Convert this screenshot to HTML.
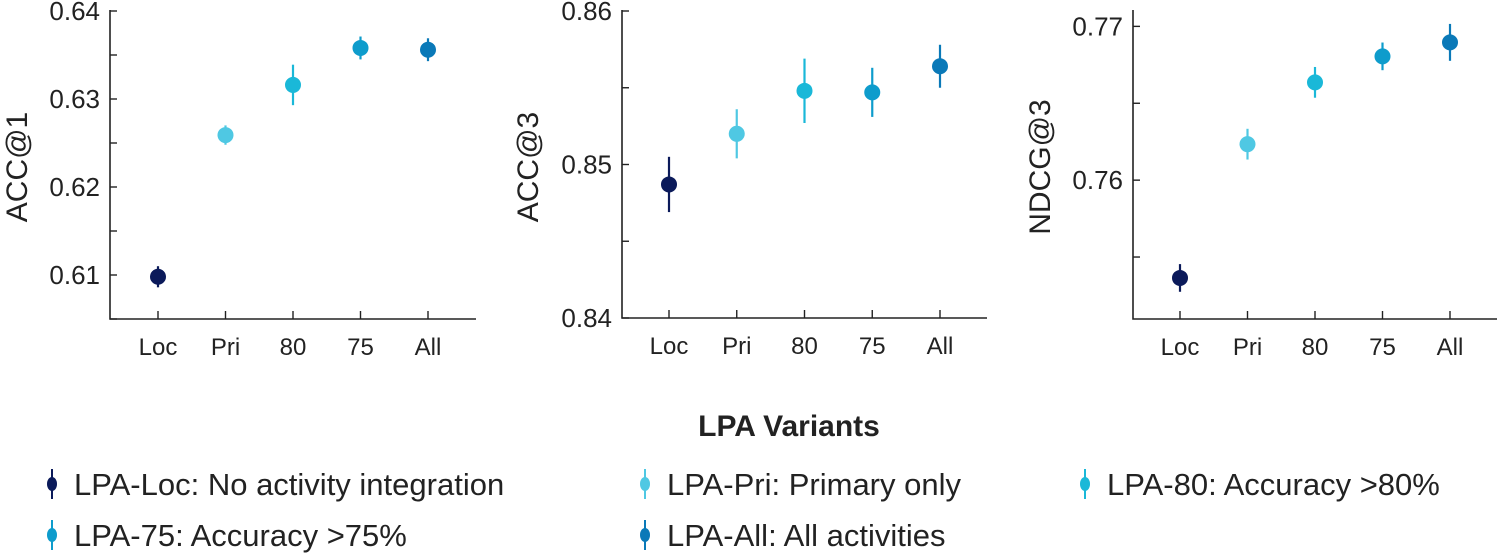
<!DOCTYPE html>
<html><head><meta charset="utf-8"><style>
body{margin:0;background:#fff;}
svg{display:block;font-family:"Liberation Sans",Arial,sans-serif;}
</style></head><body>
<svg id="chart" width="1500" height="553"></svg>
<script>
const categories=["Loc","Pri","80","75","All"];
const colors=["#0b1a5a","#4fc8e3","#1ab8d8","#0e9ccc","#0a79b8"];
const acc1Values=[0.6098,0.6259,0.6316,0.6358,0.6356];
const acc1Errors=[0.0012,0.0011,0.0023,0.0013,0.0013];
const acc3Values=[0.8487,0.8520,0.8548,0.8547,0.8564];
const acc3Errors=[0.0018,0.0016,0.0021,0.0016,0.0014];
const ndcgValues=[0.75364,0.76234,0.76636,0.76805,0.76896];
const ndcgErrors=[0.0009,0.0010,0.0010,0.0009,0.0012];
const acc1Ticks=["0.61","0.62","0.63","0.64"];
const acc3Ticks=["0.84","0.85","0.86"];
const ndcgTicks=["0.76","0.77"];
const legendLabels=["LPA-Loc: No activity integration","LPA-Pri: Primary only","LPA-80: Accuracy >80%","LPA-75: Accuracy >75%","LPA-All: All activities"];

const NS="http://www.w3.org/2000/svg";
const svg=document.getElementById("chart");
function mk(tag,attrs,parent){const e=document.createElementNS(NS,tag);for(const k in attrs)e.setAttribute(k,attrs[k]);(parent||svg).appendChild(e);return e;}

const panels=[
 {name:"acc1",title:"ACC@1",vals:acc1Values,errs:acc1Errors,ticks:acc1Ticks,minor:0.005,x0:110,x1:476,y0:11,y1:319,lo:0.605,hi:0.640,cx0:158,dx:67.5,titleX:27},
 {name:"acc3",title:"ACC@3",vals:acc3Values,errs:acc3Errors,ticks:acc3Ticks,minor:0.005,x0:622,x1:987,y0:11,y1:318,lo:0.84,hi:0.86,cx0:669,dx:67.75,titleX:538},
 {name:"ndcg3",title:"NDCG@3",vals:ndcgValues,errs:ndcgErrors,ticks:ndcgTicks,minor:0.005,x0:1133,x1:1497,y0:11,y1:319,lo:0.75097,hi:0.7710,cx0:1180,dx:67.5,titleX:1050}
];
panels.forEach(p=>{
 const g=mk("g",{});
 
 
 const ys=v=>p.y1-(v-p.lo)/(p.hi-p.lo)*(p.y1-p.y0);
 const xs=i=>p.cx0+i*p.dx;
 const ax=mk("path",{d:`M${p.x0},${p.y0-1}V${p.y1}H${p.x1}`,fill:"none",stroke:"#222","stroke-width":1.6},g);
 
 
 const start=Math.ceil(p.lo/p.minor-1e-6);
 for(let k=start;k*p.minor<=p.hi+1e-9;k++){
  const v=k*p.minor,y=ys(v);
  mk("line",{x1:p.x0,x2:p.x0+7,y1:y,y2:y,stroke:"#222","stroke-width":1.4},g);
 }
 p.ticks.forEach(t=>{
  const y=ys(parseFloat(t));
  const tx=mk("text",{x:p.x0-10,y:y+9,"text-anchor":"end","font-size":26,fill:"#222"},g);
  tx.textContent=t;
  
  
 });
 const cy=167;
 const yt=mk("text",{x:p.titleX,y:cy,"text-anchor":"middle","font-size":30,fill:"#222",transform:`rotate(-90 ${p.titleX} ${cy})`},g);
 yt.textContent=p.title;
 
 
 categories.forEach((c,i)=>{
  const x=xs(i);
  mk("line",{x1:x,x2:x,y1:p.y1,y2:p.y1-8,stroke:"#222","stroke-width":1.4},g);
  const tl=mk("text",{x:x,y:p.y1+36,"text-anchor":"middle","font-size":24,fill:"#222"},g);
  tl.textContent=c;
  
  
  const v=p.vals[i],e=p.errs[i];
  const eb=mk("line",{x1:x,x2:x,y1:ys(v-e),y2:ys(v+e),stroke:colors[i],"stroke-width":2.2},g);
  
  
  const pt=mk("circle",{cx:x,cy:ys(v),r:8,fill:colors[i]},g);
  
  
 });
});
const lt=mk("text",{x:789,y:436,"text-anchor":"middle","font-size":30,"font-weight":"bold",fill:"#222"});
lt.textContent="LPA Variants";


const lx=[52,645,1085],ly=[484,535];
legendLabels.forEach((l,i)=>{
 const x=lx[i%3],y=ly[Math.floor(i/3)];
 const g=mk("g",{});
 
 
 mk("line",{x1:x,x2:x,y1:y-15,y2:y+15,stroke:colors[i],"stroke-width":2},g);
 mk("ellipse",{cx:x,cy:y,rx:5,ry:7,fill:colors[i]},g);
 const t=mk("text",{x:x+22,y:y+11,"font-size":31,fill:"#222"},g);
 t.textContent=l;
});
</script>
</body></html>
